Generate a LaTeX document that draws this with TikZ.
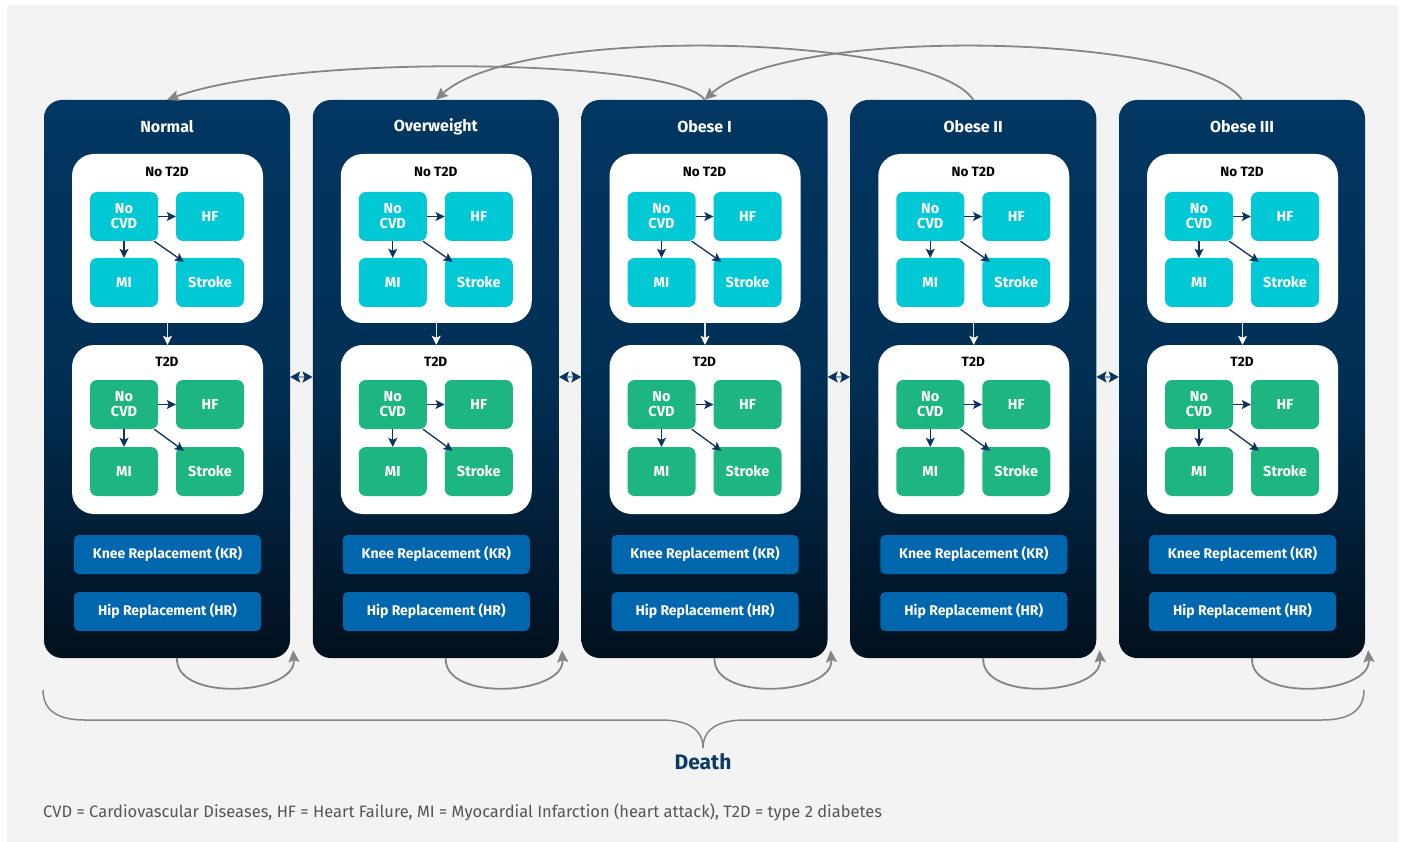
\documentclass[tikz,border=0pt]{standalone}
\usepackage{fontspec}
\setmainfont{Fira Sans}
\usetikzlibrary{arrows.meta,calc}

\definecolor{panelbg}{HTML}{F3F3F3}
\definecolor{navytop}{HTML}{013762}
\definecolor{navybot}{HTML}{02101D}
\definecolor{cvdteal}{HTML}{00C8D4}
\definecolor{cvdgreen}{HTML}{1EB680}
\definecolor{jointblue}{HTML}{0066AE}
\definecolor{arrnavy}{HTML}{0B3460}
\definecolor{flowgrey}{HTML}{858585}
\definecolor{deathblue}{HTML}{0A3A66}
\definecolor{notegrey}{HTML}{555555}

\tikzset{
  bmistate/.style={draw=none, rounded corners=18pt, minimum width=246pt, minimum height=558pt,
    top color=navytop, bottom color=navybot, middle color=navytop!80!navybot, shading angle=0},
  coltitle/.style={text=white, font=\fontsize{16}{18}\selectfont\bfseries},
  diabox/.style={fill=white, draw=none, rounded corners=22pt, minimum width=191pt, minimum height=169pt},
  dialabel/.style={text=black, font=\fontsize{13.5}{15}\selectfont\bfseries},
  cvdstate/.style={draw=none, rounded corners=7pt, minimum width=68pt, minimum height=49pt,
    text=white, align=center, font=\fontsize{14.5}{15}\selectfont\bfseries, inner sep=0pt},
  tealstate/.style={cvdstate, fill=cvdteal},
  greenstate/.style={cvdstate, fill=cvdgreen},
  jointstate/.style={fill=jointblue, draw=none, rounded corners=5pt, minimum width=187pt, minimum height=39pt,
    text=white, font=\fontsize{14}{16}\selectfont\bfseries, inner sep=0pt},
  smallarr/.style={draw=arrnavy, line width=1.3pt, -{Stealth[length=9pt,width=9pt,inset=2pt]}},
  whitearr/.style={draw=white!80!gray, line width=1.3pt, -{Stealth[length=9pt,width=9pt,inset=2pt,fill=white,color=white]}},
  dblarr/.style={draw=arrnavy!45!white, line width=1.5pt,
    {Stealth[length=10pt,width=11pt,inset=2pt,color=arrnavy]}-{Stealth[length=10pt,width=11pt,inset=2pt,color=arrnavy]}},
  flowarr/.style={draw=flowgrey, line width=1.8pt, -{Stealth[length=12pt,width=11pt,inset=2pt]}},
  bracepath/.style={draw=flowgrey, line width=1.5pt}
}

\begin{document}
\begin{tikzpicture}[x=1pt,y=-1pt]
\useasboundingbox (0,0) rectangle (1403,842);
\fill[panelbg] (7,5) rectangle (1398,842);

\foreach \i/\name in {1/Normal,2/Overweight,3/Obese I,4/Obese II,5/Obese III}{
  \pgfmathsetmacro{\cx}{44+(\i-1)*268.75+123}
  \pgfmathsetmacro{\lx}{\cx-43}
  \pgfmathsetmacro{\rx}{\cx+43}
  % BMI state column
  \node[bmistate] (col\i) at (\cx,379) {};
  \node[coltitle] (ttl\i) at (\cx,127) {\name};
  % without type 2 diabetes
  \node[diabox] (nt\i) at (\cx+0.5,238.5) {};
  \node[dialabel] (ntl\i) at (\cx,172) {No T2D};
  \node[tealstate] (ntcvd\i) at (\lx,216.5) {No\\CVD};
  \node[tealstate] (nthf\i) at (\rx,216.5) {HF};
  \node[tealstate] (ntmi\i) at (\lx,282.5) {MI};
  \node[tealstate] (ntst\i) at (\rx,282.5) {Stroke};
  \draw[smallarr] (ntcvd\i.east) -- (nthf\i.west);
  \draw[smallarr] (ntcvd\i.south) -- (ntmi\i.north);
  \draw[smallarr] ([xshift=-4pt]ntcvd\i.south east) -- ([xshift=8pt,yshift=-4pt]ntst\i.north west);
  % with type 2 diabetes
  \node[diabox] (t\i) at (\cx+0.5,429.5) {};
  \node[dialabel] (tl\i) at (\cx,362) {T2D};
  \node[greenstate] (tcvd\i) at (\lx,404.5) {No\\CVD};
  \node[greenstate] (thf\i) at (\rx,404.5) {HF};
  \node[greenstate] (tmi\i) at (\lx,471.5) {MI};
  \node[greenstate] (tst\i) at (\rx,471.5) {Stroke};
  \draw[smallarr] (tcvd\i.east) -- (thf\i.west);
  \draw[smallarr] (tcvd\i.south) -- (tmi\i.north);
  \draw[smallarr] ([xshift=-4pt]tcvd\i.south east) -- ([xshift=8pt,yshift=-4pt]tst\i.north west);
  \draw[whitearr] (nt\i.south) -- (t\i.north);
  % joint replacements
  \node[jointstate] (kr\i) at (\cx+0.5,554.5) {Knee Replacement (KR)};
  \node[jointstate] (hr\i) at (\cx+0.5,611.5) {Hip Replacement (HR)};
  % staying in the same BMI state
  \draw[flowarr] ([xshift=10pt]col\i.south) .. controls +(-2,44) and +(3,45) .. ([xshift=3pt,yshift=8pt]col\i.south east);
}

% moves between neighbouring BMI states
\foreach \i/\j in {1/2,2/3,3/4,4/5}{
  \draw[dblarr] ([yshift=2pt]col\i.east) -- ([yshift=2pt]col\j.west);
}

% weight loss moves two states down
\draw[flowarr] (col3.north) .. controls +(-25,-40) and +(133,-48) .. (col1.north);
\draw[flowarr] (col4.north) .. controls +(-44,-66) and +(84,-76) .. (col2.north);
\draw[flowarr] (col5.north) .. controls +(-44,-66) and +(84,-76) .. (col3.north);

% every state can lead to death
\coordinate (bl) at (43,690);
\coordinate (br) at (1364,690);
\coordinate (btip) at (703,748);
\draw[bracepath] (bl) .. controls +(0,22) and +(-25,0) .. (85,720) -- (661,720)
  .. controls +(28,0) and +(0,-18) .. (btip);
\draw[bracepath] (btip) .. controls +(0,-18) and +(-28,0) .. (745,720) -- (1322,720)
  .. controls +(25,0) and +(0,22) .. (br);
\node[text=deathblue, font=\fontsize{21}{24}\selectfont\bfseries] (death) at (703,762) {Death};

\node[anchor=west, text=notegrey, font=\fontsize{16.5}{18}\selectfont, inner sep=0pt] (note) at (43,812)
  {CVD = Cardiovascular Diseases, HF = Heart Failure, MI = Myocardial Infarction (heart attack), T2D = type 2 diabetes};
\end{tikzpicture}
\end{document}
